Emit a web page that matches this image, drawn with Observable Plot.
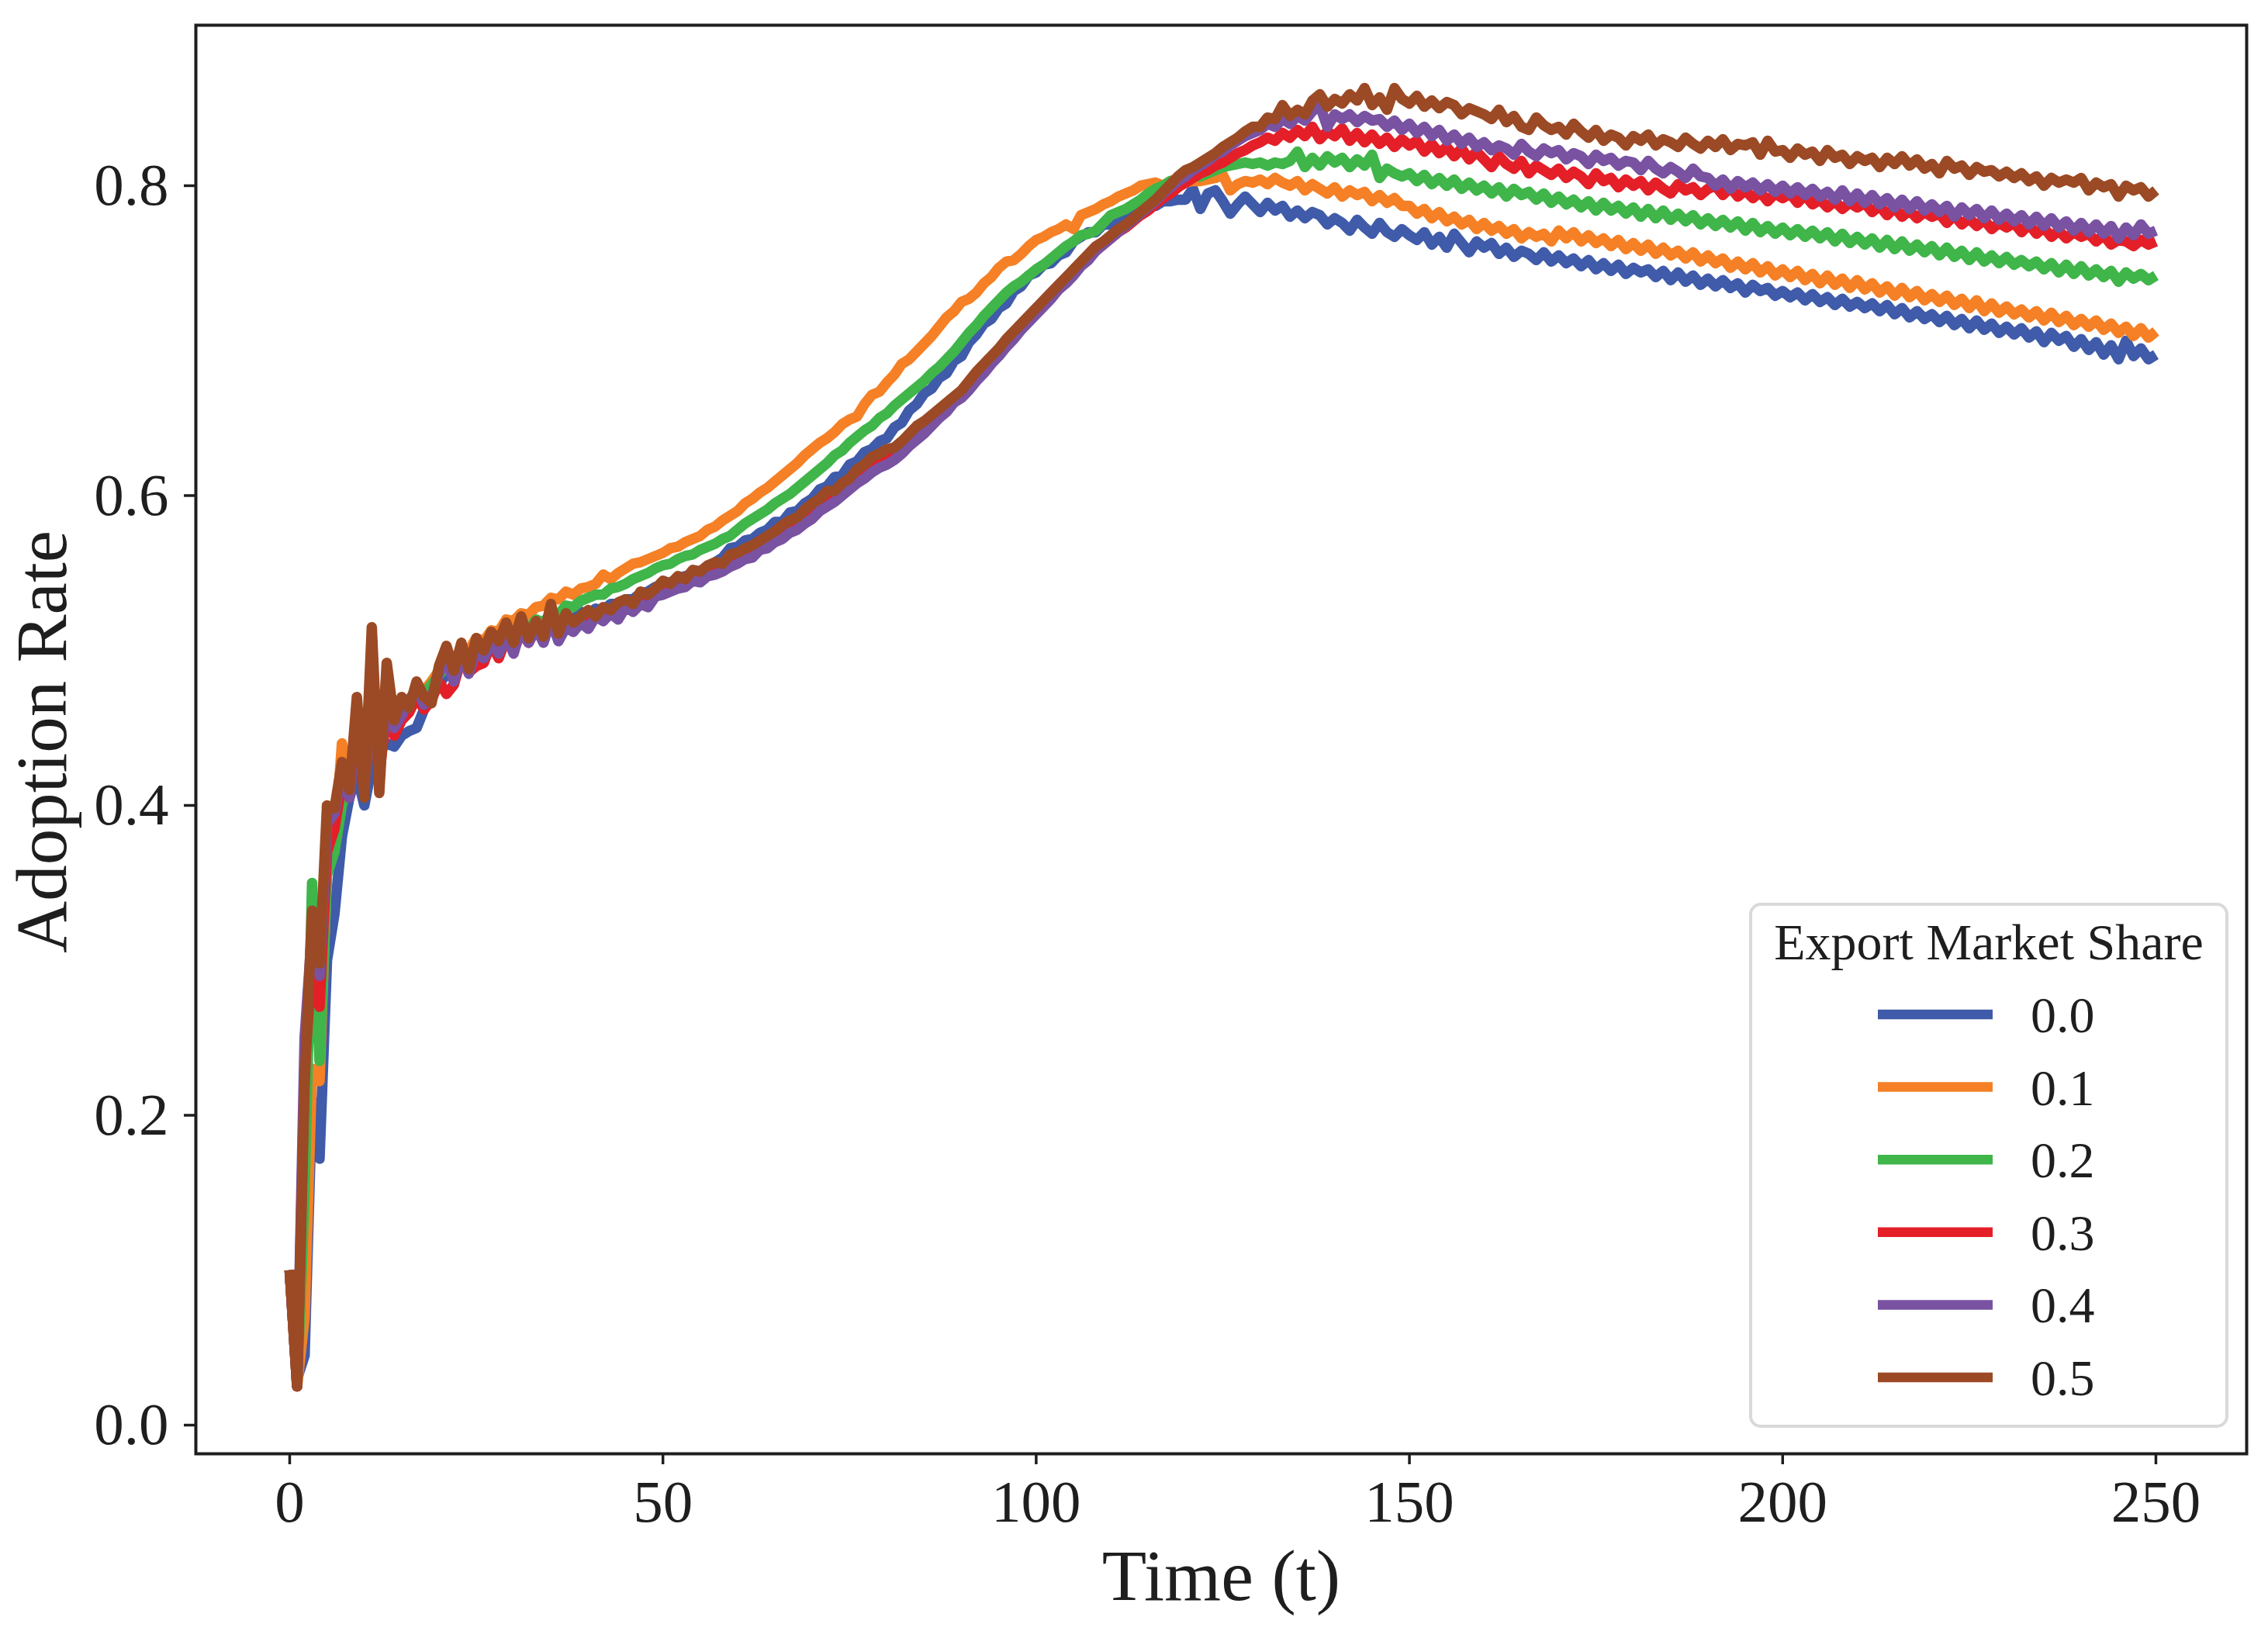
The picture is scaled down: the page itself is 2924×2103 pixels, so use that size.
<!DOCTYPE html>
<html>
<head>
<meta charset="utf-8">
<script src="https://cdn.jsdelivr.net/npm/d3@7"></script>
<script src="https://cdn.jsdelivr.net/npm/@observablehq/plot@0.6"></script>
<style>
  html, body { margin: 0; padding: 0; background: #ffffff; }
  #wrap { position: relative; width: 2924px; height: 2103px; background: #ffffff; }
  #wrap > svg { position: absolute; left: 0; top: 0; }
  #legend { pointer-events: none; }
</style>
</head>
<body>
<div id="wrap"></div>
<script>
// ---------- data ----------
const shares = ["0.0", "0.1", "0.2", "0.3", "0.4", "0.5"];
const colors = ["#3f5ba9", "#f58025", "#3fb54a", "#e41f28", "#7952a2", "#9b4a25"];
const xTicks = [0, 50, 100, 150, 200, 250];
const yTicks = [0.0, 0.2, 0.4, 0.6, 0.8];
const xLabel = "Time (t)";
const yLabel = "Adoption Rate";
const legendTitle = "Export Market Share";

// adoption rate per time step t = 0 … 250
const share00 = [
0.100,0.030,0.045,0.210,0.172,0.300,0.330,0.380,0.405,0.420,
0.400,0.425,0.435,0.440,0.438,0.445,0.448,0.450,0.462,0.470,
0.478,0.485,0.483,0.492,0.490,0.498,0.496,0.503,0.500,0.508,
0.505,0.512,0.510,0.515,0.513,0.519,0.517,0.522,0.520,0.525,
0.524,0.527,0.526,0.530,0.530,0.533,0.533,0.537,0.538,0.541,
0.542,0.544,0.546,0.548,0.549,0.551,0.554,0.557,0.560,0.566,
0.567,0.571,0.572,0.576,0.578,0.583,0.583,0.589,0.590,0.595,
0.598,0.604,0.606,0.612,0.613,0.620,0.622,0.628,0.630,0.635,
0.637,0.644,0.647,0.655,0.659,0.666,0.669,0.676,0.679,0.687,
0.690,0.699,0.704,0.711,0.714,0.721,0.724,0.732,0.735,0.742,
0.744,0.749,0.750,0.755,0.757,0.764,0.767,0.770,0.770,0.775,
0.775,0.780,0.780,0.785,0.785,0.788,0.787,0.790,0.790,0.791,
0.791,0.798,0.785,0.795,0.797,0.790,0.782,0.788,0.793,0.788,
0.783,0.789,0.784,0.787,0.780,0.784,0.779,0.783,0.781,0.775,
0.779,0.776,0.771,0.778,0.773,0.769,0.776,0.770,0.767,0.772,
0.768,0.765,0.770,0.762,0.767,0.760,0.769,0.763,0.757,0.764,
0.760,0.763,0.756,0.760,0.754,0.758,0.756,0.752,0.757,0.751,
0.755,0.750,0.753,0.748,0.752,0.746,0.750,0.745,0.749,0.743,
0.747,0.744,0.746,0.741,0.745,0.739,0.744,0.738,0.742,0.736,
0.740,0.735,0.739,0.734,0.737,0.731,0.736,0.732,0.734,0.729,
0.732,0.728,0.731,0.726,0.730,0.725,0.728,0.723,0.727,0.722,
0.725,0.721,0.724,0.719,0.723,0.717,0.721,0.715,0.719,0.714,
0.717,0.712,0.716,0.710,0.714,0.708,0.713,0.707,0.711,0.705,
0.709,0.704,0.708,0.702,0.706,0.699,0.705,0.700,0.703,0.696,
0.701,0.694,0.699,0.691,0.697,0.688,0.700,0.690,0.695,0.688,0.691
];
const share01 = [
0.100,0.025,0.070,0.230,0.222,0.360,0.372,0.440,0.420,0.445,
0.438,0.452,0.448,0.458,0.456,0.463,0.466,0.472,0.474,0.480,
0.487,0.492,0.490,0.499,0.500,0.508,0.506,0.513,0.512,0.520,
0.519,0.524,0.523,0.528,0.529,0.534,0.533,0.538,0.536,0.540,
0.541,0.543,0.549,0.546,0.550,0.553,0.556,0.557,0.559,0.561,
0.563,0.566,0.567,0.570,0.572,0.574,0.578,0.580,0.584,0.587,
0.590,0.595,0.598,0.602,0.605,0.609,0.613,0.617,0.621,0.626,
0.630,0.634,0.637,0.641,0.646,0.649,0.651,0.659,0.665,0.667,
0.673,0.678,0.685,0.688,0.693,0.698,0.703,0.709,0.715,0.719,
0.725,0.727,0.731,0.737,0.741,0.747,0.751,0.752,0.756,0.761,
0.765,0.767,0.770,0.772,0.775,0.772,0.781,0.783,0.785,0.788,
0.790,0.793,0.795,0.797,0.800,0.801,0.802,0.800,0.803,0.801,
0.802,0.803,0.803,0.804,0.805,0.807,0.797,0.801,0.803,0.802,
0.804,0.801,0.805,0.802,0.800,0.803,0.797,0.801,0.798,0.795,
0.799,0.793,0.797,0.794,0.796,0.790,0.794,0.789,0.792,0.787,
0.787,0.782,0.785,0.779,0.783,0.777,0.780,0.775,0.778,0.772,
0.776,0.771,0.774,0.769,0.772,0.766,0.770,0.767,0.769,0.764,
0.771,0.766,0.770,0.764,0.768,0.763,0.766,0.761,0.765,0.759,
0.763,0.758,0.762,0.756,0.760,0.755,0.758,0.753,0.757,0.751,
0.755,0.750,0.753,0.747,0.751,0.746,0.750,0.744,0.748,0.742,
0.746,0.741,0.745,0.739,0.743,0.737,0.742,0.736,0.740,0.734,
0.739,0.733,0.737,0.731,0.735,0.729,0.734,0.728,0.732,0.726,
0.730,0.725,0.729,0.723,0.727,0.721,0.726,0.719,0.724,0.718,
0.722,0.717,0.720,0.715,0.719,0.713,0.718,0.712,0.716,0.710,
0.714,0.709,0.713,0.707,0.711,0.705,0.709,0.703,0.708,0.702,0.706
];
const share02 = [
0.100,0.025,0.150,0.350,0.235,0.355,0.370,0.400,0.415,0.440,
0.430,0.460,0.445,0.462,0.455,0.465,0.468,0.474,0.472,0.478,
0.484,0.490,0.488,0.497,0.495,0.503,0.500,0.508,0.505,0.512,
0.510,0.516,0.514,0.520,0.518,0.524,0.523,0.529,0.528,0.532,
0.534,0.536,0.536,0.540,0.541,0.543,0.546,0.548,0.550,0.553,
0.555,0.556,0.559,0.561,0.562,0.565,0.567,0.569,0.572,0.574,
0.578,0.582,0.585,0.588,0.591,0.595,0.598,0.601,0.605,0.609,
0.613,0.617,0.621,0.626,0.629,0.634,0.638,0.642,0.645,0.650,
0.653,0.658,0.662,0.666,0.670,0.674,0.679,0.683,0.688,0.693,
0.699,0.705,0.710,0.716,0.721,0.726,0.731,0.735,0.738,0.742,
0.746,0.749,0.753,0.757,0.761,0.764,0.768,0.769,0.771,0.776,
0.781,0.783,0.785,0.788,0.791,0.795,0.798,0.800,0.803,0.804,
0.805,0.806,0.806,0.808,0.810,0.812,0.813,0.814,0.815,0.814,
0.815,0.813,0.815,0.814,0.816,0.822,0.812,0.818,0.813,0.819,
0.815,0.818,0.812,0.817,0.813,0.820,0.805,0.811,0.808,0.806,
0.808,0.803,0.807,0.801,0.805,0.800,0.804,0.798,0.802,0.797,
0.800,0.795,0.799,0.793,0.798,0.794,0.796,0.791,0.795,0.789,
0.793,0.788,0.791,0.786,0.790,0.784,0.789,0.784,0.787,0.782,
0.786,0.780,0.785,0.779,0.784,0.778,0.782,0.777,0.781,0.775,
0.779,0.774,0.778,0.773,0.777,0.771,0.776,0.770,0.774,0.769,
0.773,0.768,0.772,0.767,0.771,0.766,0.770,0.764,0.769,0.763,
0.767,0.762,0.766,0.760,0.765,0.759,0.764,0.758,0.762,0.757,
0.761,0.755,0.760,0.754,0.758,0.752,0.757,0.751,0.755,0.750,
0.754,0.749,0.752,0.748,0.751,0.746,0.750,0.744,0.749,0.743,
0.748,0.742,0.746,0.741,0.745,0.738,0.744,0.740,0.743,0.739,0.742
];
const share03 = [
0.100,0.025,0.230,0.300,0.270,0.370,0.385,0.415,0.405,0.450,
0.415,0.470,0.420,0.460,0.445,0.455,0.460,0.470,0.462,0.468,
0.480,0.472,0.478,0.495,0.486,0.490,0.492,0.505,0.495,0.508,
0.500,0.512,0.505,0.514,0.508,0.518,0.510,0.516,0.514,0.520,
0.518,0.523,0.520,0.526,0.522,0.529,0.527,0.531,0.530,0.536,
0.538,0.540,0.542,0.543,0.547,0.546,0.550,0.551,0.553,0.556,
0.558,0.561,0.563,0.567,0.568,0.572,0.575,0.578,0.580,0.584,
0.588,0.592,0.596,0.599,0.603,0.607,0.611,0.614,0.618,0.621,
0.624,0.627,0.631,0.636,0.640,0.644,0.649,0.653,0.657,0.662,
0.666,0.671,0.676,0.682,0.687,0.692,0.698,0.703,0.708,0.713,
0.718,0.723,0.728,0.733,0.738,0.743,0.749,0.753,0.758,0.762,
0.766,0.770,0.773,0.777,0.781,0.784,0.788,0.792,0.795,0.799,
0.802,0.805,0.808,0.810,0.813,0.815,0.818,0.821,0.823,0.826,
0.828,0.831,0.829,0.834,0.831,0.836,0.832,0.838,0.830,0.835,
0.832,0.837,0.829,0.834,0.828,0.833,0.827,0.831,0.825,0.830,
0.826,0.829,0.822,0.827,0.821,0.825,0.819,0.824,0.817,0.822,
0.817,0.812,0.819,0.814,0.811,0.816,0.808,0.813,0.810,0.807,
0.811,0.805,0.809,0.806,0.801,0.808,0.803,0.805,0.799,0.804,
0.800,0.803,0.797,0.802,0.798,0.795,0.801,0.797,0.799,0.794,
0.798,0.800,0.794,0.799,0.793,0.797,0.792,0.796,0.790,0.795,
0.792,0.795,0.789,0.794,0.788,0.791,0.786,0.790,0.785,0.789,
0.786,0.789,0.783,0.787,0.781,0.786,0.780,0.784,0.779,0.783,
0.780,0.782,0.776,0.781,0.775,0.779,0.774,0.778,0.772,0.776,
0.773,0.776,0.770,0.775,0.769,0.773,0.767,0.771,0.766,0.770,
0.767,0.769,0.764,0.768,0.762,0.765,0.764,0.761,0.765,0.762,0.764
];
const share04 = [
0.100,0.025,0.250,0.320,0.290,0.388,0.395,0.420,0.405,0.455,
0.410,0.470,0.425,0.465,0.450,0.458,0.468,0.475,0.465,0.470,
0.485,0.495,0.480,0.497,0.485,0.500,0.495,0.505,0.498,0.510,
0.498,0.515,0.505,0.515,0.505,0.520,0.506,0.515,0.512,0.518,
0.514,0.522,0.519,0.524,0.520,0.528,0.525,0.530,0.528,0.535,
0.536,0.538,0.540,0.541,0.545,0.544,0.548,0.549,0.551,0.554,
0.556,0.559,0.560,0.565,0.566,0.570,0.572,0.576,0.578,0.582,
0.585,0.590,0.593,0.596,0.600,0.604,0.608,0.611,0.615,0.618,
0.620,0.623,0.627,0.632,0.636,0.640,0.645,0.650,0.654,0.660,
0.663,0.668,0.674,0.679,0.685,0.690,0.696,0.701,0.707,0.712,
0.717,0.722,0.727,0.733,0.737,0.742,0.748,0.752,0.758,0.762,
0.766,0.770,0.774,0.778,0.782,0.786,0.790,0.795,0.799,0.803,
0.806,0.810,0.813,0.816,0.820,0.822,0.826,0.829,0.832,0.834,
0.836,0.840,0.838,0.843,0.840,0.845,0.842,0.848,0.852,0.838,
0.846,0.843,0.846,0.841,0.845,0.842,0.843,0.838,0.842,0.836,
0.840,0.834,0.838,0.832,0.836,0.829,0.833,0.827,0.831,0.825,
0.828,0.823,0.826,0.824,0.820,0.827,0.822,0.819,0.824,0.821,
0.823,0.817,0.821,0.819,0.814,0.820,0.816,0.818,0.813,0.816,
0.815,0.810,0.816,0.811,0.808,0.812,0.809,0.805,0.811,0.806,
0.805,0.800,0.804,0.798,0.803,0.799,0.802,0.797,0.801,0.796,
0.800,0.795,0.799,0.794,0.798,0.793,0.796,0.791,0.797,0.790,
0.795,0.789,0.794,0.788,0.792,0.786,0.791,0.785,0.790,0.784,
0.788,0.783,0.787,0.780,0.786,0.781,0.785,0.779,0.784,0.778,
0.782,0.777,0.781,0.775,0.780,0.774,0.779,0.773,0.777,0.771,
0.776,0.770,0.775,0.769,0.774,0.766,0.773,0.768,0.775,0.769,0.771
];
const share05 = [
0.100,0.025,0.220,0.332,0.298,0.400,0.398,0.428,0.410,0.470,
0.405,0.515,0.408,0.492,0.455,0.470,0.463,0.480,0.470,0.466,
0.490,0.503,0.487,0.505,0.488,0.508,0.500,0.512,0.506,0.518,
0.505,0.522,0.508,0.519,0.509,0.530,0.511,0.524,0.518,0.522,
0.526,0.522,0.528,0.526,0.531,0.533,0.530,0.538,0.536,0.540,
0.545,0.543,0.548,0.546,0.552,0.551,0.555,0.557,0.556,0.562,
0.563,0.566,0.568,0.571,0.574,0.577,0.581,0.584,0.586,0.591,
0.595,0.598,0.603,0.603,0.608,0.611,0.617,0.620,0.625,0.627,
0.630,0.631,0.635,0.640,0.645,0.648,0.652,0.656,0.660,0.664,
0.668,0.674,0.680,0.685,0.690,0.695,0.701,0.706,0.711,0.716,
0.721,0.726,0.731,0.736,0.741,0.746,0.751,0.756,0.761,0.764,
0.768,0.772,0.775,0.779,0.783,0.787,0.791,0.796,0.801,0.806,
0.810,0.812,0.815,0.818,0.821,0.825,0.828,0.831,0.835,0.838,
0.838,0.844,0.843,0.852,0.845,0.849,0.846,0.855,0.859,0.851,
0.856,0.853,0.859,0.855,0.863,0.852,0.857,0.849,0.863,0.856,
0.853,0.858,0.851,0.855,0.850,0.854,0.852,0.846,0.850,0.848,
0.846,0.843,0.849,0.841,0.845,0.838,0.836,0.844,0.839,0.836,
0.838,0.833,0.840,0.835,0.831,0.836,0.829,0.833,0.831,0.826,
0.832,0.829,0.833,0.826,0.830,0.828,0.825,0.831,0.827,0.824,
0.829,0.825,0.830,0.823,0.827,0.826,0.828,0.820,0.829,0.822,
0.823,0.818,0.824,0.820,0.822,0.816,0.823,0.818,0.820,0.814,
0.819,0.816,0.818,0.812,0.818,0.814,0.819,0.813,0.817,0.811,
0.814,0.808,0.816,0.811,0.813,0.807,0.812,0.809,0.810,0.806,
0.809,0.805,0.808,0.803,0.806,0.800,0.805,0.802,0.804,0.802,
0.805,0.797,0.802,0.799,0.801,0.793,0.800,0.797,0.799,0.793,0.797
];
const seriesValues = [share00, share01, share02, share03, share04, share05];

// ---------- tidy table for Plot ----------
const rows = [];
seriesValues.forEach((vals, i) => {
  vals.forEach((v, t) => rows.push({t, v, share: shares[i]}));
});

const W = 2924, H = 2103;
const FONT = '"Liberation Serif", "Times New Roman", Times, serif';
const INK = "#1e1e1e";

const chart = Plot.plot({
  width: W,
  height: H,
  marginLeft: 252,
  marginRight: 28,
  marginTop: 32,
  marginBottom: 229,
  style: {fontFamily: FONT, color: INK, background: "#ffffff", overflow: "visible"},
  x: {domain: [-12.57, 262.16]},
  y: {domain: [-0.0185, 0.9036]},
  color: {domain: shares, range: colors},
  marks: [
    Plot.axisX({ticks: xTicks, tickSize: 14, tickPadding: 19, fontSize: 77, strokeWidth: 3.5, label: null, tickFormat: d => String(d)}),
    Plot.axisY({ticks: yTicks, tickSize: 15, tickPadding: 20, fontSize: 77, strokeWidth: 3.5, label: null, tickFormat: d => d.toFixed(1)}),
    Plot.line(rows, {x: "t", y: "v", z: "share", stroke: "share", strokeWidth: 13.5, strokeLinejoin: "round", strokeLinecap: "butt"}),
    Plot.frame({stroke: INK, strokeWidth: 4}),
    Plot.text([xLabel], {frameAnchor: "bottom", dy: 188, lineAnchor: "bottom", textAnchor: "middle", fontSize: 94, fill: INK}),
    Plot.text([yLabel], {frameAnchor: "left", dx: -168, dy: 3, rotate: -90, lineAnchor: "bottom", textAnchor: "middle", fontSize: 93, fill: INK})
  ]
});

const wrap = document.getElementById("wrap");
wrap.appendChild(chart);

// ---------- legend (inside the axes, lower right) ----------
const leg = d3.select(wrap).append("svg")
  .attr("id", "legend")
  .attr("width", W).attr("height", H)
  .attr("viewBox", `0 0 ${W} ${H}`)
  .style("font-family", FONT);

leg.append("rect")
  .attr("x", 2257).attr("y", 1166).attr("width", 614).attr("height", 673)
  .attr("rx", 13).attr("ry", 13)
  .attr("fill", "#ffffff").attr("fill-opacity", 0.8)
  .attr("stroke", "#d9d9d9").attr("stroke-width", 4);

leg.append("text")
  .attr("x", 2564).attr("y", 1237)
  .attr("text-anchor", "middle")
  .attr("font-size", 66).attr("fill", INK)
  .text(legendTitle);

shares.forEach((s, i) => {
  const cy = 1308 + i * 93.6;
  leg.append("line")
    .attr("x1", 2421).attr("x2", 2569).attr("y1", cy).attr("y2", cy)
    .attr("stroke", colors[i]).attr("stroke-width", 12.5);
  leg.append("text")
    .attr("x", 2618).attr("y", cy + 23)
    .attr("font-size", 66).attr("fill", INK)
    .text(s);
});
</script>
</body>
</html>
